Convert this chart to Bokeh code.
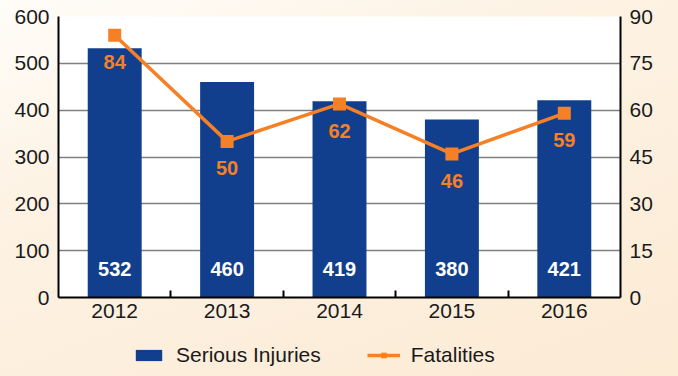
from bokeh.plotting import figure
from bokeh.layouts import column
from bokeh.models import (ColumnDataSource, Range1d, LinearAxis, FixedTicker,
                          Legend, LegendItem, GlobalInlineStyleSheet)
from bokeh.core.properties import value
from bokeh.embed import file_html
from bokeh.resources import INLINE

years = ["2012", "2013", "2014", "2015", "2016"]
injuries = [532, 460, 419, 380, 421]
fatalities = [84, 50, 62, 46, 59]
injury_ticks = [0, 100, 200, 300, 400, 500, 600]
fatality_ticks = [0, 15, 30, 45, 60, 75, 90]
series_names = ["Serious Injuries", "Fatalities"]

NAVY = "#123f8d"
ORANGE = "#f58025"
FONT = "Liberation Sans"

n = len(years)
xc = [i + 0.5 for i in range(n)]
bounds = [float(i) for i in range(1, n)]

src = ColumnDataSource(dict(
    x=xc, year=years, inj=injuries, fat=fatalities,
    inj_label=[str(v) for v in injuries],
    fat_label=[str(v) for v in fatalities],
))

p = figure(width=678, height=337,
           x_range=Range1d(0, n), y_range=Range1d(0, injury_ticks[-1]),
           output_backend="svg", toolbar_location=None,
           min_border_left=58, min_border_right=58,
           min_border_top=16, min_border_bottom=40)
p.extra_y_ranges = {"fat": Range1d(0, fatality_ticks[-1])}

p.background_fill_color = "white"
p.border_fill_color = None
p.outline_line_color = None

p.vbar(x="x", top="inj", width=0.48, source=src,
       fill_color=NAVY, line_color=None)
p.line(x="x", y="fat", source=src, y_range_name="fat",
       line_color=ORANGE, line_width=3.5)
p.scatter(x="x", y="fat", source=src, y_range_name="fat",
          marker="square", size=13, fill_color=ORANGE, line_color=None)

p.text(x="x", y=0, text="inj_label", source=src, y_offset=-29,
       text_align="center", text_baseline="middle",
       text_color="white", text_font=value(FONT), text_font_style="bold",
       text_font_size="20px")
p.text(x="x", y="fat", text="fat_label", source=src, y_range_name="fat",
       y_offset=27, text_align="center", text_baseline="middle",
       text_color=ORANGE, text_font=value(FONT), text_font_style="bold",
       text_font_size="20px")

la = p.left[0]
la.ticker = FixedTicker(ticks=injury_ticks)
ba = p.below[0]
ba.ticker = FixedTicker(ticks=xc, minor_ticks=bounds)
ba.major_label_overrides = {x: y for x, y in zip(xc, years)}

ra = LinearAxis(y_range_name="fat", ticker=FixedTicker(ticks=fatality_ticks))
p.add_layout(ra, "right")

for ax in (la, ra, ba):
    ax.axis_line_color = "black"
    ax.axis_line_width = 2
    ax.major_tick_in = 0
    ax.major_tick_out = 0
    ax.minor_tick_in = 0
    ax.minor_tick_out = 0
    ax.major_label_text_font = FONT
    ax.major_label_text_font_size = "21px"
    ax.major_label_text_color = "#1a1a1a"
    ax.major_label_standoff = 9
ba.minor_tick_in = 7
ba.minor_tick_line_color = "black"
ba.minor_tick_line_width = 2
ba.major_label_standoff = 6

p.xgrid.grid_line_color = None
p.ygrid.grid_line_color = "#808080"
p.ygrid.grid_line_width = 1.5
p.ygrid.ticker = FixedTicker(ticks=injury_ticks)

# legend strip below the chart (its key glyphs sit outside its visible range)
lg = figure(width=678, height=39, output_backend="svg", toolbar_location=None,
            x_range=Range1d(0, 1), y_range=Range1d(0, 1),
            x_axis_location=None, y_axis_location=None,
            min_border_left=58, min_border_right=58,
            min_border_top=0, min_border_bottom=0)
lg.grid.visible = False
lg.outline_line_color = None
lg.background_fill_color = None
lg.border_fill_color = None

key_src = ColumnDataSource(dict(x=[-5.0, -4.0], y=[-5.0, -4.0]))
k_bar = lg.vbar(x="x", top="y", width=0.5, source=key_src,
                fill_color=NAVY, line_color=None)
k_line = lg.line(x="x", y="y", source=key_src, line_color=ORANGE, line_width=3.5)
k_mark = lg.scatter(x="x", y="y", source=key_src, marker="square", size=13,
                    fill_color=ORANGE, line_color=None)

legend = Legend(items=[LegendItem(label=series_names[0], renderers=[k_bar]),
                       LegendItem(label=series_names[1], renderers=[k_line, k_mark])],
                orientation="horizontal", location=(74, 9),
                glyph_width=33, glyph_height=14, label_height=22,
                label_standoff=11, spacing=46, padding=0, margin=0,
                label_text_font=FONT, label_text_font_size="21px",
                label_text_color="#1a1a1a",
                border_line_color=None, background_fill_alpha=0)
lg.add_layout(legend, "center")

layout = column(p, lg, spacing=0)
layout.stylesheets = [GlobalInlineStyleSheet(css=(
    "body { background: linear-gradient(160deg, #fffdf9 0%, #fdf2e3 35%, #fcebd5 100%); }"
))]

open("out.html", "w").write(file_html(layout, INLINE))
